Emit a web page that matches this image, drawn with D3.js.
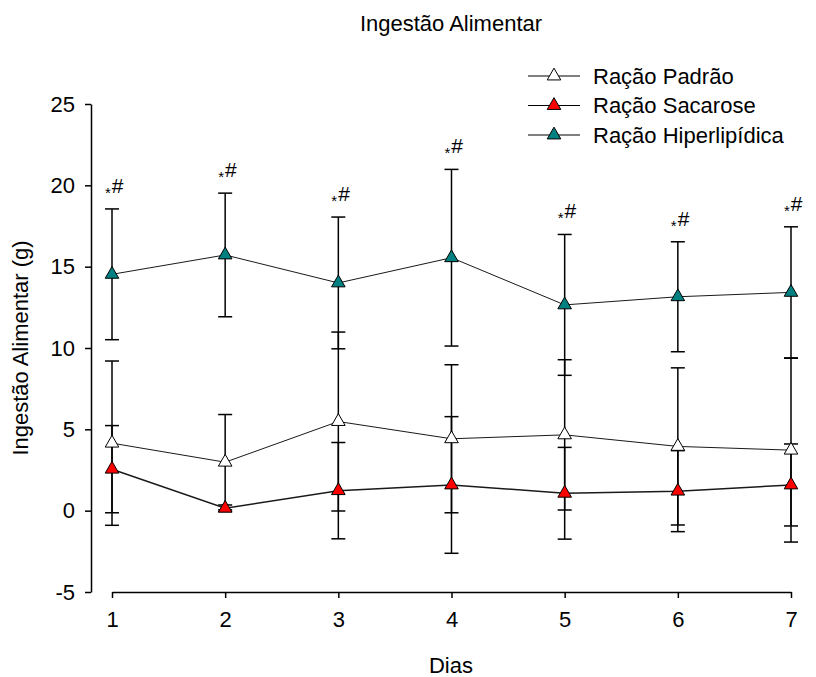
<!DOCTYPE html>
<html>
<head>
<meta charset="utf-8">
<script src="https://cdn.jsdelivr.net/npm/d3@7"></script>
<style>
    body { margin: 0; background: #ffffff; }
    svg { display: block; font-family: 'Liberation Sans', Arial, sans-serif; }
</style>
</head>
<body>
<svg id="chart" width="816" height="677"></svg>
<script>
const days = [1, 2, 3, 4, 5, 6, 7];
const yTicks = [-5, 0, 5, 10, 15, 20, 25];

const padrao = [4.15, 2.98, 5.48, 4.42, 4.66, 3.95, 3.72];
const padraoErr = [5.05, 2.93, 5.5, 4.55, 4.62, 4.83, 5.65];
const sacarose = [2.55, 0.15, 1.23, 1.58, 1.07, 1.2, 1.58];
const sacaroseErr = [2.68, 0.2, 2.96, 4.2, 2.82, 2.49, 2.52];
const hiper = [14.53, 15.72, 14.0, 15.55, 12.65, 13.15, 13.42];
const hiperErr = [4.02, 3.8, 4.05, 5.43, 4.33, 3.38, 4.03];

const marks = ['*#', '*#', '*#', '*#', '*#', '*#', '*#'];

const seriesNames = ['Ração Padrão', 'Ração Sacarose', 'Ração Hiperlipídica'];
const seriesColors = ['#ffffff', '#ff0000', '#008080'];

const series = [
    {name: seriesNames[0], color: seriesColors[0], values: padrao, err: padraoErr, width: 1},
    {name: seriesNames[1], color: seriesColors[1], values: sacarose, err: sacaroseErr, width: 1.5},
    {name: seriesNames[2], color: seriesColors[2], values: hiper, err: hiperErr, width: 1}
];

const svg = d3.select('#chart');
const x = d3.scaleLinear().domain([1, 7]).range([112, 791]);
const y = d3.scaleLinear().domain([-5, 25]).range([592, 104]);
const fontSize = 22;

// axes (offset, SigmaPlot style)
const yAxis = svg.append('g')
    .attr('transform', 'translate(91,0)')
    .call(d3.axisLeft(y).tickValues(yTicks).tickFormat((d) => String(d))
        .tickSize(6).tickPadding(10).tickSizeOuter(0));
const xAxis = svg.append('g')
    .attr('transform', 'translate(0,592)')
    .call(d3.axisBottom(x).tickValues(days).tickFormat(d3.format('d')).tickSize(6).tickPadding(19).tickSizeOuter(0));
[yAxis, xAxis].forEach((ax) => {
    ax.select('.domain').attr('stroke', '#000').attr('stroke-width', 1.5);
    ax.selectAll('.tick line').attr('stroke', '#000').attr('stroke-width', 1.5);
    ax.selectAll('.tick text')
        .attr('fill', '#000')
        .attr('font-size', fontSize)
        .attr('font-family', "'Liberation Sans', Arial, sans-serif");
});
xAxis.selectAll('.tick text').attr('dy', '0.45em');

// error bars
const capHalf = 7;
series.forEach((s) => {
    const g = svg.append('g').attr('stroke', '#000').attr('stroke-width', 1.5);
    days.forEach((d, i) => {
        const top = y(s.values[i] + s.err[i]);
        const bot = y(s.values[i] - s.err[i]);
        const cx = x(d);
        g.append('line').attr('x1', cx).attr('x2', cx).attr('y1', top).attr('y2', bot);
        g.append('line').attr('x1', cx - capHalf).attr('x2', cx + capHalf).attr('y1', top).attr('y2', top);
        g.append('line').attr('x1', cx - capHalf).attr('x2', cx + capHalf).attr('y1', bot).attr('y2', bot);
    });
});

// lines and symbols
const line = d3.line().x((d, i) => x(days[i])).y((d) => y(d));
const tri = d3.symbol().type(d3.symbolTriangle).size(80);
series.forEach((s) => {
    svg.append('path')
        .attr('d', line(s.values))
        .attr('fill', 'none')
        .attr('stroke', '#1a1a1a')
        .attr('stroke-width', s.width);
});
series.forEach((s) => {
    svg.append('g')
        .selectAll('path')
        .data(s.values)
        .enter()
        .append('path')
        .attr('d', tri)
        .attr('transform', (d, i) => `translate(${x(days[i])},${y(d)})`)
        .attr('fill', s.color)
        .attr('stroke', '#000')
        .attr('stroke-width', 1);
});

// significance marks above the high-fat series
days.forEach((d, i) => {
    const capY = y(hiper[i] + hiperErr[i]);
    const t = svg.append('text')
        .attr('x', x(d) - 7)
        .attr('y', capY - 16)
        .attr('fill', '#000');
    t.append('tspan').attr('font-size', 15).attr('dy', 5).text(marks[i][0]);
    t.append('tspan').attr('font-size', 21).attr('dx', 1).attr('dy', -5).text(marks[i][1]);
});

// titles
svg.append('text')
    .attr('x', 451).attr('y', 31)
    .attr('text-anchor', 'middle')
    .attr('font-size', fontSize)
    .text('Ingestão Alimentar');
svg.append('text')
    .attr('x', 451).attr('y', 673)
    .attr('text-anchor', 'middle')
    .attr('font-size', fontSize)
    .text('Dias');
svg.append('text')
    .attr('transform', 'translate(28,348) rotate(-90)')
    .attr('text-anchor', 'middle')
    .attr('font-size', fontSize)
    .text('Ingestão Alimentar (g)');

// legend
const legend = svg.append('g');
series.forEach((s, i) => {
    const ly = 76 + i * 29.5;
    legend.append('line')
        .attr('x1', 528).attr('x2', 580).attr('y1', ly).attr('y2', ly)
        .attr('stroke', '#000').attr('stroke-width', 1.2);
    legend.append('path')
        .attr('d', tri)
        .attr('transform', `translate(554,${ly})`)
        .attr('fill', s.color)
        .attr('stroke', '#000');
    legend.append('text')
        .attr('x', 593).attr('y', ly + 7.5)
        .attr('font-size', fontSize)
        .text(s.name);
});
</script>
</body>
</html>
